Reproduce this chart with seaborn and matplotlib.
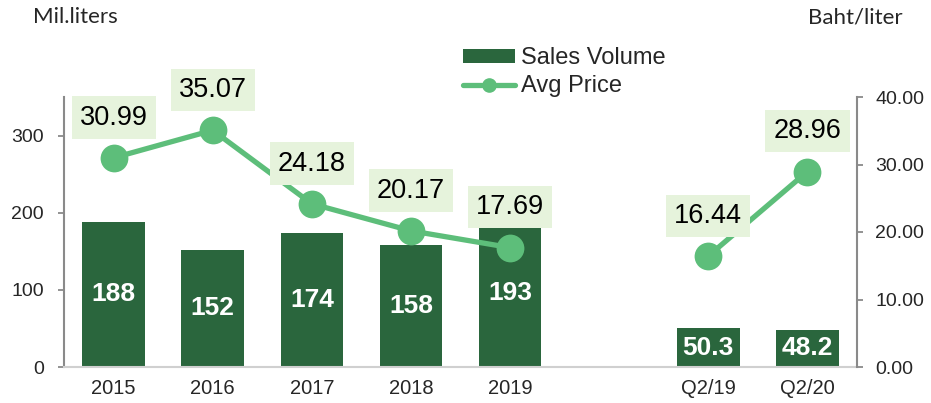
import matplotlib
matplotlib.use("Agg")
import matplotlib.pyplot as plt
import seaborn as sns
import pandas as pd
from matplotlib.patches import Patch
from matplotlib.lines import Line2D

# ---- data ----
categories = ["2015", "2016", "2017", "2018", "2019", "Q2/19", "Q2/20"]
sales_volume = [188, 152, 174, 158, 193, 50.3, 48.2]
avg_price = [30.99, 35.07, 24.18, 20.17, 17.69, 16.44, 28.96]
groups = ["year", "year", "year", "year", "year", "quarter", "quarter"]
slot_order = ["2015", "2016", "2017", "2018", "2019", " ", "Q2/19", "Q2/20"]
left_ticks = [0, 100, 200, 300]
right_ticks = [0, 10, 20, 30, 40]

BAR = "#2A663D"
LINE = "#5DBE7A"
BOX = "#E6F3DC"

sns.set_theme(style="white")
plt.rcParams["font.family"] = ["Liberation Sans", "DejaVu Sans"]

df = pd.DataFrame({"cat": categories, "vol": sales_volume,
                   "price": avg_price, "grp": groups})
df["pos"] = [slot_order.index(c) for c in categories]

fig = plt.figure(figsize=(9.31, 4.03), dpi=100)
W, H = 931, 403
ax = fig.add_axes([64 / W, (H - 367) / H, (857 - 64) / W, (367 - 97) / H])

sns.barplot(data=df, x="cat", y="vol", order=slot_order, color=BAR,
            width=0.63, saturation=1, ax=ax, edgecolor="none")
ax.set_ylim(0, 350)
ax.set_xlim(-0.5, 7.5)
ax.set_yticks(left_ticks)
ax.set_yticklabels([str(t) for t in left_ticks], fontsize=14)
ax.set_xlabel("")
ax.set_ylabel("")
ax.tick_params(axis="x", length=0, labelsize=14.5, pad=9)
ax.tick_params(axis="y", length=4.5, width=1.3, color="#8A8A8A", pad=10,
               direction="out", left=True)
for s in ["top", "right"]:
    ax.spines[s].set_visible(False)
ax.spines["left"].set_color("#8A8A8A")
ax.spines["left"].set_linewidth(1.5)
ax.spines["bottom"].set_color("#D0D0D0")
ax.spines["bottom"].set_linewidth(1.5)

cont = ax.containers[0]
ax.bar_label(cont, labels=[f"{v:g}" for v in sales_volume], label_type="center",
             color="white", fontsize=19, fontweight="bold")

ax2 = ax.twinx()
for g in ["year", "quarter"]:
    sub = df[df["grp"] == g]
    sns.lineplot(data=sub, x="pos", y="price", ax=ax2, color=LINE, lw=3.8,
                 marker="o", markersize=20, markeredgewidth=0, sort=False,
                 estimator=None, legend=False)
ax2.set_ylim(0, 40)
ax2.set_xlim(-0.5, 7.5)
ax2.set_yticks(right_ticks)
ax2.set_yticklabels([f"{t:.2f}" for t in right_ticks], fontsize=14)
ax2.set_ylabel("")
ax2.set_xlabel("")
for s in ["top", "left", "bottom"]:
    ax2.spines[s].set_visible(False)
ax2.spines["right"].set_color("#8A8A8A")
ax2.spines["right"].set_linewidth(1.5)
ax2.tick_params(axis="y", length=4.5, width=1.3, color="#8A8A8A", pad=8.5,
                direction="out", right=True)

for x, y in zip(df["pos"], df["price"]):
    ax2.annotate(f"{y:.2f}", (x, y), xytext=(0, 29), textcoords="offset points",
                 ha="center", va="center", fontsize=19.5, color="black",
                 bbox=dict(boxstyle="square,pad=0.3", fc=BOX, ec="none"),
                 zorder=5)

handles = [Patch(facecolor=BAR, edgecolor="none"),
           Line2D([0], [0], color=LINE, lw=3.8, marker="o", markersize=9.5)]
fig.legend(handles, ["Sales Volume", "Avg Price"], loc="upper left",
           bbox_to_anchor=(463 / W, 1 - 47 / H), frameon=False, fontsize=17,
           handlelength=2.2, handleheight=0.55, labelspacing=0.27,
           handletextpad=0.25, borderpad=0, borderaxespad=0)

fig.text(33 / W, 1 - 17 / H, "Mil.liters", fontsize=16, family=["Lato", "DejaVu Sans"],
         ha="left", va="center")
fig.text(808 / W, 1 - 17 / H, "Baht/liter", fontsize=16, family=["Lato", "DejaVu Sans"],
         ha="left", va="center")

fig.savefig("out.png", dpi=100)
